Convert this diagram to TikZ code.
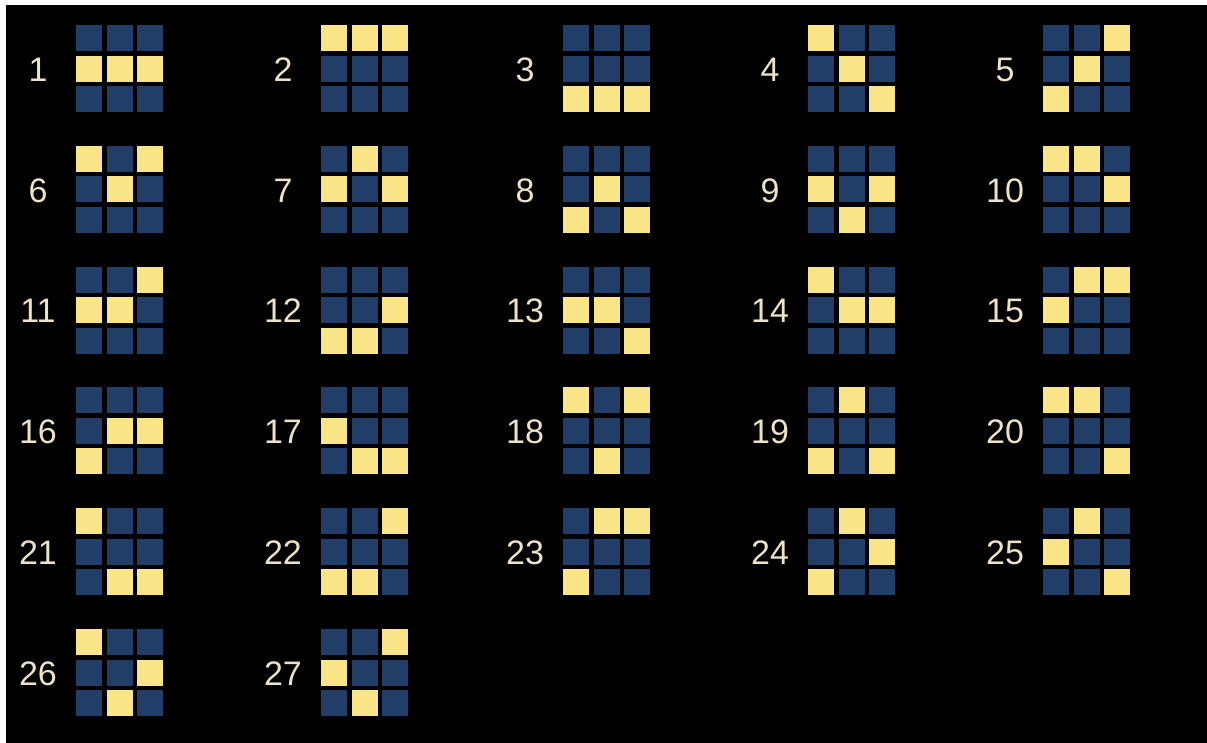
\documentclass[tikz,border=0pt]{standalone}
\usepackage{fontspec}
\setmainfont{Liberation Sans}
\definecolor{tileblue}{RGB}{32,62,104}
\definecolor{tileyellow}{RGB}{250,228,136}
\definecolor{numcream}{RGB}{238,226,198}

\begin{document}
\begin{tikzpicture}[x=1pt, y=-1pt,
    cell/.style={minimum size=26pt, inner sep=0pt, outer sep=0pt},
    s0/.style={fill=tileblue},
    s1/.style={fill=tileyellow},
    num/.style={text=numcream, font=\fontsize{34}{34}\selectfont, inner sep=0pt}]

        % BACKGROUND
        \useasboundingbox (0,0) rectangle (1207,742);
        \fill[white] (-10,-10) rectangle (1220,760);
        \fill[black] (6,5) rectangle (1220,760);

        % PATTERNS (row by row, 1 = yellow)
        \foreach \n/\pat in {
            1/{0,0,0,1,1,1,0,0,0}, 2/{1,1,1,0,0,0,0,0,0}, 3/{0,0,0,0,0,0,1,1,1},
            4/{1,0,0,0,1,0,0,0,1}, 5/{0,0,1,0,1,0,1,0,0}, 6/{1,0,1,0,1,0,0,0,0},
            7/{0,1,0,1,0,1,0,0,0}, 8/{0,0,0,0,1,0,1,0,1}, 9/{0,0,0,1,0,1,0,1,0},
            10/{1,1,0,0,0,1,0,0,0}, 11/{0,0,1,1,1,0,0,0,0}, 12/{0,0,0,0,0,1,1,1,0},
            13/{0,0,0,1,1,0,0,0,1}, 14/{1,0,0,0,1,1,0,0,0}, 15/{0,1,1,1,0,0,0,0,0},
            16/{0,0,0,0,1,1,1,0,0}, 17/{0,0,0,1,0,0,0,1,1}, 18/{1,0,1,0,0,0,0,1,0},
            19/{0,1,0,0,0,0,1,0,1}, 20/{1,1,0,0,0,0,0,0,1}, 21/{1,0,0,0,0,0,0,1,1},
            22/{0,0,1,0,0,0,1,1,0}, 23/{0,1,1,0,0,0,1,0,0}, 24/{0,1,0,0,0,1,1,0,0},
            25/{0,1,0,1,0,0,0,0,1}, 26/{1,0,0,0,0,1,0,1,0}, 27/{0,0,1,1,0,0,0,1,0}}
        {
            \pgfmathtruncatemacro\col{mod(\n-1,5)}
            \pgfmathtruncatemacro\row{(\n-1)/5}
            \pgfmathsetmacro\gx{{76,321,563,808,1043}[\col]}
            \pgfmathsetmacro\gy{25+120.8*\row}
            \node[num] (lbl\n) at (\gx-38, \gy+44.5) {\n};
            \foreach \b [count=\k from 0] in \pat {
                \pgfmathtruncatemacro\cc{mod(\k,3)}
                \pgfmathtruncatemacro\rr{\k/3}
                \node[cell, s\b] (g\n-\k) at (\gx+13+30.5*\cc, \gy+13+30.5*\rr) {};
            }
        }
    \end{tikzpicture}
\end{document}
